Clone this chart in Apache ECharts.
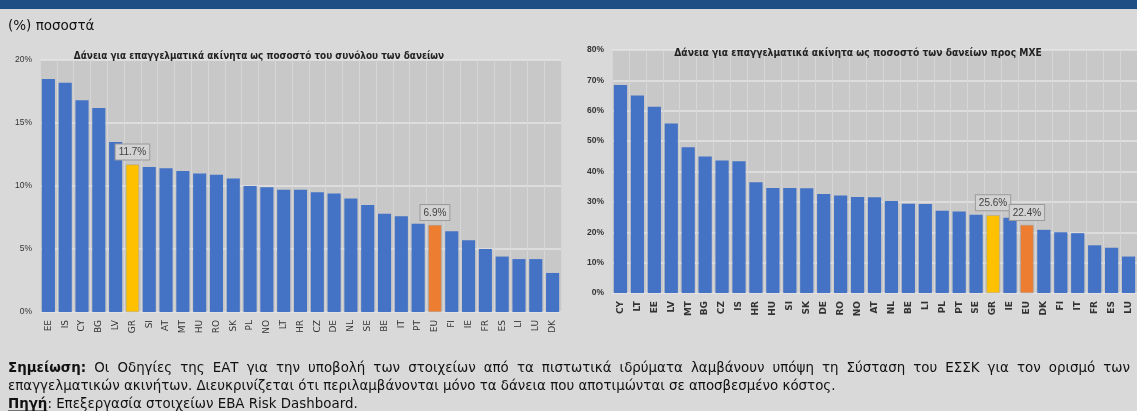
<!DOCTYPE html>
<html>
<head>
<meta charset="utf-8">
<script src="https://cdn.jsdelivr.net/npm/echarts@6/dist/echarts.min.js"></script>
<style>
  html, body { margin: 0; padding: 0; background: #d9d9d9; }
  #chart { width: 1137px; height: 411px; }
</style>
</head>
<body>
<div id="chart"></div>
<script>
// αριστερό γράφημα: % του συνόλου των δανείων
var catsTotal = ['EE','IS','CY','BG','LV','GR','SI','AT','MT','HU','RO','SK','PL','NO','LT','HR','CZ','DE','NL','SE','BE','IT','PT','EU','FI','IE','FR','ES','LI','LU','DK'];
var valsTotal = [18.5,18.2,16.8,16.2,13.5,11.7,11.5,11.4,11.2,11.0,10.9,10.6,10.0,9.9,9.7,9.7,9.5,9.4,9.0,8.5,7.8,7.6,7.0,6.9,6.4,5.7,5.0,4.4,4.2,4.2,3.1];

// δεξί γράφημα: % των δανείων προς ΜΧΕ
var catsSme = ['CY','LT','EE','LV','MT','BG','CZ','IS','HR','HU','SI','SK','DE','RO','NO','AT','NL','BE','LI','PL','PT','SE','GR','IE','EU','DK','FI','IT','FR','ES','LU'];
var valsSme = [68.5,65.0,61.3,55.8,48.0,44.9,43.6,43.4,36.5,34.6,34.6,34.5,32.6,32.1,31.6,31.5,30.3,29.4,29.3,27.1,26.8,25.8,25.6,24.8,22.4,20.8,20.0,19.7,15.7,14.9,12.0];

var ticksTotal = [0, 20, 5];
var ticksSme = [0, 80, 10];

var BLUE = '#4472c4', YELLOW = '#ffc000', ORANGE = '#ed7d31';
var NOTE_FONT = 'DejaVu Sans', NOTE_SIZE = 13.4;

function buildData(cats, vals) {
    return vals.map(function (v, i) {
        var item = { value: v };
        if (cats[i] === 'GR' || cats[i] === 'EU') {
            item.itemStyle = { color: cats[i] === 'GR' ? YELLOW : ORANGE, borderColor: '#a0a0a0', borderWidth: 0.5 };
            item.label = {
                show: true,
                position: 'top',
                distance: 5,
                formatter: function (p) { return p.value.toFixed(1) + '%'; },
                color: '#404040',
                fontSize: 10,
                fontFamily: 'Liberation Sans',
                backgroundColor: '#d2d2d2',
                borderColor: '#9a9a9a',
                borderWidth: 1,
                padding: [3, 3, 2, 3]
            };
        }
        return item;
    });
}

function xAxisFor(idx, cats, bold) {
    return {
        type: 'category',
        gridIndex: idx,
        data: cats,
        axisTick: { show: false },
        axisLine: { show: false },
        axisLabel: {
            rotate: 90,
            interval: 0,
            margin: 8,
            color: '#333',
            fontSize: 9,
            fontWeight: bold ? 'bold' : 'normal',
            fontFamily: 'DejaVu Sans'
        },
        splitLine: { show: true, interval: 0, lineStyle: { color: '#d6d6d6', width: 1 } }
    };
}

function yAxisFor(idx, t, bold) {
    return {
        type: 'value',
        gridIndex: idx,
        min: t[0], max: t[1], interval: t[2],
        axisLine: { show: false },
        axisTick: { show: false },
        axisLabel: {
            formatter: '{value}%',
            margin: 8,
            color: '#333',
            fontSize: 8.5,
            fontWeight: bold ? 'bold' : 'normal',
            fontFamily: 'Liberation Sans'
        },
        splitLine: { lineStyle: { color: '#e4e4e4', width: 1.5 } }
    };
}

// μέτρηση κειμένου για τη στοίχιση της πρώτης γραμμής της σημείωσης
var measureCtx = document.createElement('canvas').getContext('2d');
function textWidth(txt, bold) {
    measureCtx.font = (bold ? 'bold ' : '') + NOTE_SIZE + 'px "' + NOTE_FONT + '"';
    return measureCtx.measureText(txt).width;
}

function justifiedLine(words, boldCount, x0, x1, top) {
    var widths = words.map(function (w, i) { return textWidth(w, i < boldCount); });
    var sum = widths.reduce(function (a, b) { return a + b; }, 0);
    var gap = (x1 - x0 - sum) / (words.length - 1);
    var x = x0, out = [];
    words.forEach(function (w, i) {
        out.push({
            type: 'text', left: x, top: top,
            style: { text: w, fontSize: NOTE_SIZE, fontFamily: NOTE_FONT, fill: '#111', fontWeight: i < boldCount ? 'bold' : 'normal' }
        });
        x += widths[i] + gap;
    });
    return out;
}

var line1 = 'Σημείωση: Οι Οδηγίες της ΕΑΤ για την υποβολή των στοιχείων από τα πιστωτικά ιδρύματα λαμβάνουν υπόψη τη Σύσταση του ΕΣΣΚ για τον ορισμό των'.split(' ');
var pigiW = textWidth('Πηγή', true);

var myChart = echarts.init(document.getElementById('chart'));

var graphics = [
    { type: 'rect', left: 0, top: 0, shape: { width: 1137, height: 9 }, style: { fill: '#1f4e84' } },
    {
        type: 'text', left: 8, top: 19,
        style: { text: '(%) ποσοστά', fontSize: 13.5, fill: '#111', fontFamily: 'DejaVu Sans' }
    },
    {
        type: 'text', left: 8, top: 380,
        style: {
            text: 'επαγγελματικών ακινήτων. Διευκρινίζεται ότι περιλαμβάνονται μόνο τα δάνεια που αποτιμώνται σε αποσβεσμένο κόστος.',
            fontSize: NOTE_SIZE, fill: '#111', fontFamily: NOTE_FONT
        }
    },
    {
        type: 'text', left: 8, top: 398,
        style: {
            text: '{b|Πηγή}: Επεξεργασία στοιχείων EBA Risk Dashboard.',
            fontSize: NOTE_SIZE, fill: '#111', fontFamily: NOTE_FONT,
            rich: { b: { fontWeight: 'bold', fontSize: NOTE_SIZE, fontFamily: NOTE_FONT } }
        }
    },
    {
        type: 'line', shape: { x1: 8, y1: 411, x2: 8 + pigiW, y2: 411 },
        style: { stroke: '#111', lineWidth: 1 }
    }
].concat(justifiedLine(line1, 1, 8, 1130, 362));

var option = {
    backgroundColor: '#d9d9d9',
    animation: false,
    title: [
        {
            text: 'Δάνεια για επαγγελματικά ακίνητα ως ποσοστό του συνόλου των δανείων',
            left: 254, top: 46, textAlign: 'center',
            textStyle: { fontSize: 9.9, fontWeight: 'bold', color: '#222', fontFamily: 'DejaVu Sans Condensed' }
        },
        {
            text: 'Δάνεια για επαγγελματικά ακίνητα ως ποσοστό των δανείων προς ΜΧΕ',
            left: 853, top: 43, textAlign: 'center',
            textStyle: { fontSize: 10.2, fontWeight: 'bold', color: '#222', fontFamily: 'DejaVu Sans Condensed' }
        }
    ],
    grid: [
        { left: 40, top: 60, width: 521, height: 252, show: true, backgroundColor: '#c8c8c8', borderWidth: 0 },
        { left: 612, top: 50, width: 525, height: 243, show: true, backgroundColor: '#c8c8c8', borderWidth: 0 }
    ],
    xAxis: [xAxisFor(0, catsTotal, false), xAxisFor(1, catsSme, true)],
    yAxis: [yAxisFor(0, ticksTotal, false), yAxisFor(1, ticksSme, true)],
    series: [
        {
            type: 'bar', xAxisIndex: 0, yAxisIndex: 0,
            barCategoryGap: '22%',
            itemStyle: { color: BLUE },
            data: buildData(catsTotal, valsTotal)
        },
        {
            type: 'bar', xAxisIndex: 1, yAxisIndex: 1,
            barCategoryGap: '22%',
            itemStyle: { color: BLUE },
            data: buildData(catsSme, valsSme)
        }
    ],
    graphic: graphics
};

myChart.setOption(option);
</script>
</body>
</html>
